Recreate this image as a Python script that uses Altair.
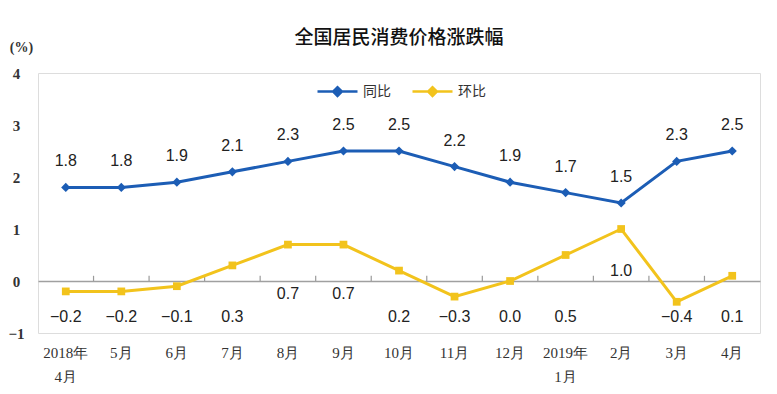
import altair as alt
import pandas as pd

months = ["2018年4月", "5月", "6月", "7月", "8月", "9月", "10月", "11月", "12月",
          "2019年1月", "2月", "3月", "4月"]
yoy = [1.8, 1.8, 1.9, 2.1, 2.3, 2.5, 2.5, 2.2, 1.9, 1.7, 1.5, 2.3, 2.5]
mom = [-0.2, -0.2, -0.1, 0.3, 0.7, 0.7, 0.2, -0.3, 0.0, 0.5, 1.0, -0.4, 0.1]
series_names = ["同比", "环比"]
colors = ["#1C5DB5", "#F2C31C"]

rows = []
for m, a, b in zip(months, yoy, mom):
    rows.append({"month": m, "series": "同比", "value": a})
    rows.append({"month": m, "series": "环比", "value": b})
df = pd.DataFrame(rows)

xscale = alt.Scale(type="band", domain=months, paddingInner=0, paddingOuter=0)
yscale = alt.Scale(domain=[-1, 4], nice=False, zero=False)
cscale = alt.Scale(domain=series_names, range=colors)
# reversed domain order keeps these scales out of the colour legend
shape_scale = alt.Scale(domain=series_names[::-1], range=["square", "diamond"])
size_scale = alt.Scale(domain=series_names[::-1], range=[60, 85])

label_expr = ("indexof(datum.label,'年')>0 ? [substring(datum.label,0,indexof(datum.label,'年')+1),"
              " substring(datum.label,indexof(datum.label,'年')+1)] : datum.label")

yaxis = alt.Axis(title="(%)", titleAngle=0, titleX=-17, titleY=-26, titleAlign="center",
                 titleBaseline="middle", titleFont="Liberation Serif", titleFontSize=14,
                 titleFontWeight="bold", titleColor="#333",
                 values=[-1, 0, 1, 2, 3, 4], domain=False, ticks=False, grid=False,
                 labelFont="Liberation Serif", labelFontSize=15, labelFontWeight="bold",
                 labelColor="#333", labelAlign="center", labelPadding=22)

legend = alt.Legend(title=None, orient="none", legendX=278, legendY=-3,
                    direction="horizontal",
                    symbolType="M-1,0L1,0M-0.22,0L0,-0.22L0.22,0L0,0.22Z",
                    symbolSize=1600, symbolStrokeWidth=2.5,
                    labelFont="Noto Sans CJK SC", labelFontSize=14,
                    labelColor="#333", columnPadding=16, labelOffset=4)

Y = alt.Y("value:Q", scale=yscale, axis=yaxis)

base = alt.Chart(df)

# zero line drawn as an axis at y = 0
zero_axis = base.mark_point(opacity=0).encode(
    x=alt.X("month:N", scale=xscale, sort=months,
            axis=alt.Axis(orient="top", offset=-208, labels=False, title=None, ticks=False,
                          domainColor="#A0A0A0", domainWidth=1.5, grid=False)),
    y=Y,
)

# small category separator ticks standing on the zero line
zero_ticks = base.transform_filter(
    (alt.datum.series == "同比") & (alt.datum.month != months[0])
).mark_rule(color="#9A9A9A", strokeWidth=1.2).encode(
    x=alt.X("month:N", scale=xscale, sort=months, bandPosition=0, axis=None),
    y=alt.datum(0),
    y2=alt.datum(0.1),
)

lines = base.mark_line(strokeWidth=3).encode(
    x=alt.X("month:N", scale=xscale, sort=months,
            axis=alt.Axis(orient="bottom", title=None, labelAngle=0, domain=False, ticks=False,
                          labelFont="Liberation Serif", labelFontSize=15, labelColor="#333",
                          labelPadding=12, labelLineHeight=24, labelExpr=label_expr,
                          labelBaseline="top")),
    y=Y,
    color=alt.Color("series:N", scale=cscale, legend=legend),
)

points = base.mark_point(filled=True, opacity=1).encode(
    x=alt.X("month:N", scale=xscale, sort=months, axis=None),
    y=Y,
    fill=alt.Fill("series:N", scale=cscale, legend=None),
    shape=alt.Shape("series:N", scale=shape_scale, legend=None),
    size=alt.Size("series:N", scale=size_scale, legend=None),
)

yoy_labels = base.transform_filter(alt.datum.series == "同比").mark_text(
    dy=-26, font="Liberation Sans", fontSize=16, color="#222").encode(
    x=alt.X("month:N", scale=xscale, sort=months, axis=None),
    y=Y,
    text=alt.Text("value:Q", format=".1f"),
)

mom_labels = base.transform_filter(alt.datum.series == "环比").transform_calculate(
    ly="datum.value >= 0.7 ? datum.value * 1.5 - 1.3 : -0.7"
).mark_text(font="Liberation Sans", fontSize=16, color="#222").encode(
    x=alt.X("month:N", scale=xscale, sort=months, axis=None),
    y=alt.Y("ly:Q", scale=yscale, axis=yaxis),
    text=alt.Text("value:Q", format=".1f"),
)

chart = alt.layer(zero_axis, zero_ticks, lines, points, yoy_labels, mom_labels).resolve_axis(
    x="independent"
).properties(
    width=722, height=260,
    title=alt.TitleParams("全国居民消费价格涨跌幅", font="Noto Sans CJK SC", fontSize=19,
                          fontWeight=500, color="#111", anchor="middle", offset=-8),
    autosize=alt.AutoSizeParams(type="none"),
    padding={"left": 30, "top": 65, "right": 4, "bottom": 50},
).configure_view(
    stroke="#A0A0A0", strokeWidth=1.5
).configure(background="white")

chart.save("out.html", embed_options={"renderer": "svg", "actions": False})
